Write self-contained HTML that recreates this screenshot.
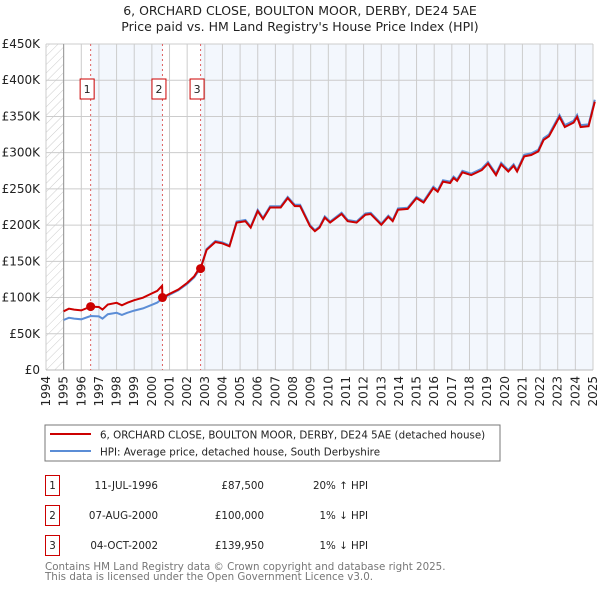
<!DOCTYPE html>
<html><head><meta charset="utf-8"><style>
body{margin:0;background:#fff;font-family:"DejaVu Sans","Liberation Sans",sans-serif}
svg text{font-family:"DejaVu Sans","Liberation Sans",sans-serif}
</style></head><body>
<svg id="c" width="600" height="590" xmlns="http://www.w3.org/2000/svg">
<defs><pattern id="h" width="6" height="6" patternUnits="userSpaceOnUse" patternTransform="rotate(45)"><line x1="0" y1="0" x2="0" y2="6" stroke="#ccc" stroke-width="1"/></pattern></defs>
<text x="300" y="15" text-anchor="middle" font-size="12.5" fill="#222">6, ORCHARD CLOSE, BOULTON MOOR, DERBY, DE24 5AE</text>
<text x="300" y="31" text-anchor="middle" font-size="12.5" fill="#222">Price paid vs. HM Land Registry's House Price Index (HPI)</text>
<g id="plot"></g>
<g>
<rect x="45" y="425" width="455" height="36" fill="#fff" stroke="#777"/>
<line x1="50" y1="434" x2="91" y2="434" stroke="#cc0000" stroke-width="2"/>
<text x="100" y="438.5" font-size="10.3" fill="#222">6, ORCHARD CLOSE, BOULTON MOOR, DERBY, DE24 5AE (detached house)</text>
<line x1="50" y1="451" x2="91" y2="451" stroke="#5b8dd6" stroke-width="2"/>
<text x="100" y="455.5" font-size="10.3" fill="#222">HPI: Average price, detached house, South Derbyshire</text>
</g>
<g id="table" font-size="10.3" fill="#222"></g>
<text x="45" y="570" font-size="10.3" fill="#777">Contains HM Land Registry data © Crown copyright and database right 2025.</text>
<text x="45" y="580" font-size="10.3" fill="#777">This data is licensed under the Open Government Licence v3.0.</text>
</svg>
<script>
const years=[1995,1995.3,1995.6,1996,1996.53,1997,1997.2,1997.5,1998,1998.3,1998.6,1999,1999.5,2000,2000.3,2000.6,2001,2001.5,2002,2002.4,2002.76,2003.1,2003.6,2004,2004.4,2004.8,2005.3,2005.6,2006,2006.3,2006.7,2007.3,2007.7,2008.1,2008.4,2008.96,2009.24,2009.5,2009.8,2010.1,2010.75,2011.1,2011.6,2012.1,2012.4,2013.0,2013.4,2013.65,2013.95,2014.5,2015,2015.4,2015.95,2016.2,2016.5,2016.9,2017.1,2017.3,2017.6,2018.1,2018.7,2019.05,2019.5,2019.8,2020.2,2020.5,2020.7,2021.1,2021.5,2021.9,2022.2,2022.5,2023.1,2023.4,2023.9,2024.1,2024.3,2024.75,2025.1];
const hpi=[69,72,71,70,74.5,74,71,77,79,76,79,82,85,90,93,99,104,110,119,128,141,167,178,176,172,205,207,198,221,210,226,226,239,228,228,200,193,198,212,205,217,207,205,216,217,202,213,207,223,224,239,233,253,248,262,260,267,263,275,271,278,287,271,286,276,284,276,297,299,304,320,325,352,338,344,352,338,339,373];
const saleYears=[1996.53,2000.6,2002.76];
const salePrices=[87500,100000,139950];
const saleDates=["11-JUL-1996","07-AUG-2000","04-OCT-2002"];
const salePriceLabels=["£87,500","£100,000","£139,950"];
const saleDiffs=["20% ↑ HPI","1% ↓ HPI","1% ↓ HPI"];
const yTicks=[0,50,100,150,200,250,300,350,400,450];
const xTicks=[];for(let y=1994;y<=2025;y++)xTicks.push(y);

const X0=46,X1=593,Y0=370,Y1=44;
const xs=y=>X0+(y-1994)*(X1-X0)/31;
const ys=v=>Y0-v*(Y0-Y1)/450;
const NS="http://www.w3.org/2000/svg";
const plot=document.getElementById('plot');
function mk(t,a,p){const e=document.createElementNS(NS,t);for(const k in a)e.setAttribute(k,a[k]);(p||plot).appendChild(e);return e;}
function hpiAt(t){for(let i=0;i<years.length-1;i++){if(t>=years[i]&&t<=years[i+1]){const f=(t-years[i])/(years[i+1]-years[i]);return hpi[i]+f*(hpi[i+1]-hpi[i]);}}return hpi[hpi.length-1];}

let r=mk('rect',{x:X0,y:Y1,width:X1-X0,height:Y0-Y1,fill:'#fff'});

r=mk('rect',{x:xs(saleYears[0]),y:Y1,width:xs(saleYears[1])-xs(saleYears[0]),height:Y0-Y1,fill:'#f3f7fd'});

r=mk('rect',{x:xs(saleYears[2]),y:Y1,width:X1-xs(saleYears[2]),height:Y0-Y1,fill:'#f3f7fd'});

r=mk('rect',{x:X0,y:Y1,width:xs(1995)-X0,height:Y0-Y1,fill:'url(#h)'});

yTicks.forEach(v=>{
 const l=mk('line',{x1:X0,x2:X1,y1:ys(v),y2:ys(v),stroke:'#ccc'});
 
 const t=mk('text',{x:X0-6,y:ys(v)+4,'text-anchor':'end','font-size':'12',fill:'#222'});
 t.textContent=v===0?'£0':'£'+v+'K';
 
});
xTicks.forEach(y=>{
 const l=mk('line',{x1:xs(y),x2:xs(y),y1:Y1,y2:Y0,stroke:'#ccc'});
 
 const t=mk('text',{transform:`translate(${xs(y)+4},${Y0+6}) rotate(-90)`,'text-anchor':'end','font-size':'12',fill:'#222'});
 t.textContent=y;
 
});
let ax=mk('line',{x1:xs(1995),x2:xs(1995),y1:Y1,y2:Y0,stroke:'#999'});

ax=mk('line',{x1:X0,x2:X1,y1:Y0,y2:Y0,stroke:'#bbb'});

saleYears.forEach((s,i)=>{
 const l=mk('line',{x1:xs(s),x2:xs(s),y1:Y1,y2:Y0,stroke:'#e06060','stroke-dasharray':'2,3'});
 
 const bx=xs(s)-10.5;
 const b=mk('rect',{x:bx,y:79,width:14,height:20,fill:'#fff',stroke:'#cc0000'});
 
 const t=mk('text',{x:bx+7,y:93,'text-anchor':'middle','font-size':'11',fill:'#222'});
 t.textContent=i+1;
 
});
const hp=years.map((y,i)=>xs(y).toFixed(1)+','+ys(hpi[i]).toFixed(1)).join(' ');
let pl=mk('polyline',{points:hp,fill:'none',stroke:'#5b8dd6','stroke-width':2});

const rp=years.map((y,i)=>{let k=0;for(let j=0;j<saleYears.length;j++)if(y>=saleYears[j]-0.001)k=j;
 const v=salePrices[k]/1000*hpi[i]/hpiAt(saleYears[k]);return xs(y).toFixed(1)+','+ys(v).toFixed(1);});
const pts=[];years.forEach((y,i)=>pts.push([y,rp[i]]));
saleYears.forEach((s,k)=>{if(k>0){const prev=salePrices[k-1]/1000*hpiAt(s)/hpiAt(saleYears[k-1]);pts.push([s-0.02,xs(s-0.02).toFixed(1)+','+ys(prev).toFixed(1)]);pts.push([s,xs(s).toFixed(1)+','+ys(salePrices[k]/1000).toFixed(1)]);}});
pts.sort((a,b)=>a[0]-b[0]);
pl=mk('polyline',{points:pts.map(p=>p[1]).join(' '),fill:'none',stroke:'#cc0000','stroke-width':2});

saleYears.forEach((s,i)=>{
 const c=mk('circle',{cx:xs(s),cy:ys(salePrices[i]/1000),r:4.5,fill:'#cc0000'});
 
});
const tb=document.getElementById('table');
saleDates.forEach((d,i)=>{
 const y=475+i*30;
 const b=mk('rect',{x:45.5,y:y+0.5,width:14,height:20,fill:'none',stroke:'#cc0000'},tb);
 
 let t=mk('text',{x:52.5,y:y+14,'text-anchor':'middle'},tb);t.textContent=i+1;
 
 t=mk('text',{x:158,y:y+14,'text-anchor':'end'},tb);t.textContent=d;
 
 t=mk('text',{x:264,y:y+14,'text-anchor':'end'},tb);t.textContent=salePriceLabels[i];
 
 t=mk('text',{x:368,y:y+14,'text-anchor':'end'},tb);t.textContent=saleDiffs[i];
 
});
</script>
</body></html>
